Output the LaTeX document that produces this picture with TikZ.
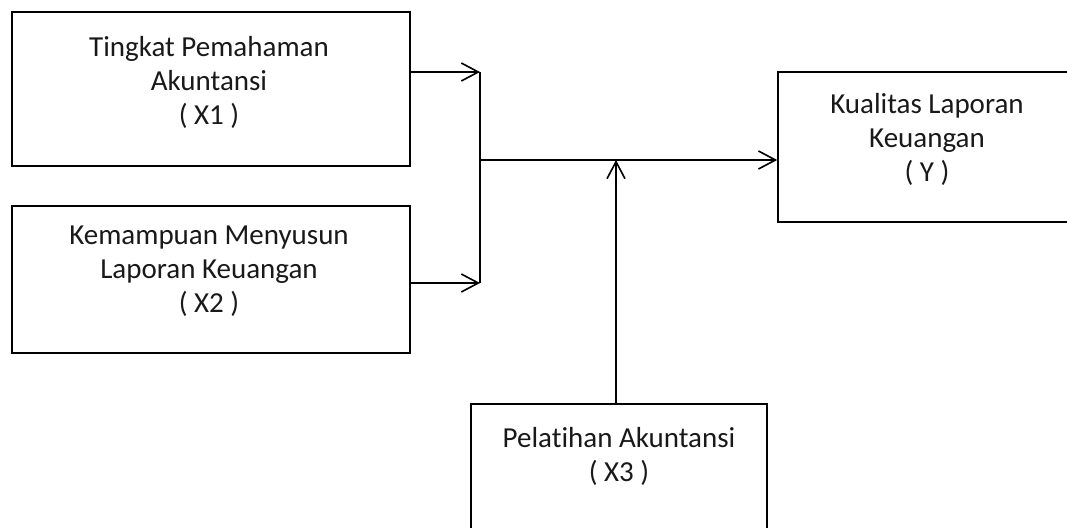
\documentclass[tikz,border=0pt]{standalone}
\usepackage{fontspec}
\setmainfont{Carlito}[Ligatures=CommonOff]
\usetikzlibrary{arrows.meta}
\begin{document}
\begin{tikzpicture}[x=1pt,y=-1pt,
  box/.style={draw=black, line width=1.6pt, rectangle, inner sep=0pt},
  lbl/.style={align=center, font=\fontsize{29}{34}\selectfont, text=black!90},
  conn/.style={line width=1.6pt},
  arr/.style={line width=1.6pt, -{Straight Barb[length=17pt,width=18pt,line width=1.6pt]}}]
\useasboundingbox (0,0) rectangle (1067,527);
\clip (0,0) rectangle (1067,527);
% boxes
\node[box, minimum width=398pt, minimum height=154pt] (x1) at (211,89) {};
\node[box, minimum width=398pt, minimum height=147pt] (x2) at (211,279.5) {};
\node[box, minimum width=298pt, minimum height=150pt] (y) at (927,147) {};
\node[box, minimum width=296pt, minimum height=160pt] (x3) at (619,484) {};
% texts
\node[lbl] (t1) at (209,82) {Tingkat Pemahaman\\Akuntansi\\( X1 )};
\node[lbl] (t2) at (209,271) {Kemampuan Menyusun\\Laporan Keuangan\\( X2 )};
\node[lbl] (ty) at (927,139) {Kualitas Laporan\\Keuangan\\( Y )};
\node[lbl] (t3) at (619,456) {Pelatihan Akuntansi\\( X3 )};
% junction coordinates
\coordinate (j1) at (480,72);
\coordinate (j2) at (480,283);
\coordinate (jm) at (480,160);
\coordinate (jx) at (616,160);
% connectors
\draw[arr] (x1.east |- j1) -- (j1);
\draw[arr] (x2.east |- j2) -- (j2);
\draw[conn] (j1) -- (j2);
\draw[arr] (jm) -- (y.west |- jm);
\draw[arr] (x3.north -| jx) -- (jx);
\end{tikzpicture}
\end{document}
